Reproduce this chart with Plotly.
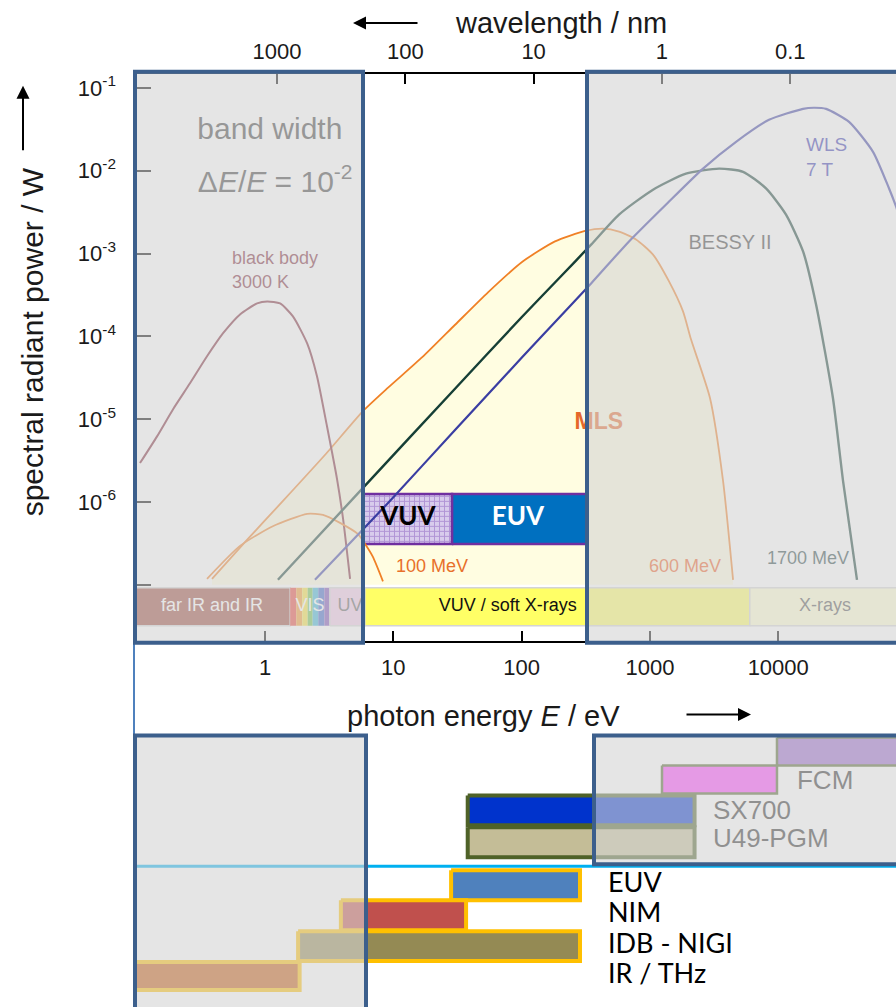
import plotly.graph_objects as go

HC = 1239.84  # h*c in eV*nm, converts photon energy to wavelength

# ---------------- spectra: photon energy E / eV, spectral radiant power / W ----------------
bb_E = [0.106, 0.144, 0.192, 0.26, 0.353, 0.471, 0.638, 0.867, 1.04, 1.31, 1.65, 2.13, 2.54,
        3.04, 3.64, 4.06, 4.6]
bb_P = [2.95e-6, 6.2e-6, 1.32e-5, 2.71e-5, 5.74e-5, 1.09e-4, 1.84e-4, 2.5e-4, 2.64e-4, 2.5e-4,
        1.74e-4, 8.2e-5, 3.3e-5, 8.2e-6, 1.89e-6, 6.2e-7, 1.18e-7]

mls100_E = [0.353, 0.638, 1.15, 2.13, 2.83, 3.84, 5.31, 5.8, 6.9, 8.3]
mls100_P = [1.18e-7, 2.95e-7, 5.1e-7, 7.2e-7, 7.0e-7, 5.6e-7, 4.1e-7, 3.4e-7, 2.2e-7, 1.1e-7]

mls600_E = [0.386, 0.7, 1.38, 3.0, 5.8, 9.1, 16.8, 30.3, 54.7, 100.7, 182, 312, 431, 574, 779,
            1057, 1409, 1811, 2090, 2938, 3715, 4446]
mls600_P = [1.18e-7, 3.3e-7, 1.03e-6, 3.85e-6, 1.25e-5, 2.4e-5, 5.6e-5, 1.38e-4, 3.4e-4, 7.9e-4,
            1.4e-3, 1.87e-3, 2.0e-3, 1.84e-3, 1.48e-3, 9.7e-4, 4.6e-4, 2.0e-4, 9.2e-5, 1.8e-5,
            1.8e-6, 1.15e-7]

bessy_E = [1.26, 5.8, 30, 100, 200, 348, 574, 1057, 1909, 3458, 5321, 8035, 11500, 15620,
           19720, 26700, 32000, 41100]
bessy_P = [1.15e-7, 1.48e-6, 2.3e-5, 1.7e-4, 5.2e-4, 1.28e-3, 2.95e-3, 5.9e-3, 9.2e-3, 1.06e-2,
           9.7e-3, 6.1e-3, 2.95e-3, 1.06e-3, 2.43e-4, 1.8e-5, 1.8e-6, 1.15e-7]

wls_E = [2.45, 9.4, 30, 100, 200, 348, 687, 1409, 2594, 4690, 8475, 15600, 19000, 23600, 35650,
         54800, 73100, 82800, 100000]
wls_P = [1.15e-7, 1.03e-6, 7.3e-6, 5.5e-5, 1.74e-4, 4.35e-4, 1.4e-3, 4.24e-3, 1.06e-2, 2.23e-2,
         4.11e-2, 5.58e-2, 5.75e-2, 5.58e-2, 3.89e-2, 1.69e-2, 6.1e-3, 3.7e-3, 1.4e-3]

# ---------------- spectral ranges (strip along the bottom of the plot) ----------------
band_names = ["far IR and IR", "VIS", "UV", "VUV / soft X-rays", "X-rays"]
band_lo = [0.09, 1.57, 3.2, 6.0, 6000]
band_hi = [1.57, 3.2, 6.0, 6000, 200000]
vis_edges = [1.57, 1.75, 1.95, 2.15, 2.35, 2.6, 2.9, 3.2]

region_names = ["VUV", "EUV"]
region_lo = [5.8, 28.7]
region_hi = [28.7, 320]

# ---------------- beamlines: energy ranges / eV ----------------
bessy_lines = ["", "FCM", "SX700", "U49-PGM"]
bessy_lo = [9780, 1242, 38, 38]
bessy_hi = [200000, 9780, 2228, 2228]

mls_lines = ["EUV", "NIM", "IDB - NIGI", "IR / THz"]
mls_lo = [28.2, 3.9, 1.81, 0.09]
mls_hi = [285, 36.9, 285, 1.86]

# ---------------- axis ticks ----------------
energy_ticks = [1, 10, 100, 1000, 10000]
wavelength_ticks = [1000, 100, 10, 1, 0.1]
power_ticks = [1e-1, 1e-2, 1e-3, 1e-4, 1e-5, 1e-6, 1e-7]
power_ticktext = ["10<sup>-1</sup>", "10<sup>-2</sup>", "10<sup>-3</sup>", "10<sup>-4</sup>",
                  "10<sup>-5</sup>", "10<sup>-6</sup>", ""]

# ---------------- styling ----------------
ARIAL = "Liberation Sans, Arial, sans-serif"
CALIBRI = "Lato, Carlito, sans-serif"
W, H = 896, 1007
L = 137
X_RANGE = [-0.998, 4.918]
Y_RANGE = [-7.675, -0.831]

ORANGE = "#f08026"
GREEN = "#163f36"
BLUE = "#3a3ea2"
MAROON = "#7a2535"
OLIVE = "#4f6228"
GOLD = "#ffc000"
FRAME = "#3c5f8c"
VEIL = "rgba(212,212,212,0.6)"

bessy_colors = ["#9966cc", "#ff44ff", "#0033cc", "#c4bd97"]
mls_colors = ["#4f81bd", "#c0504d", "#948a54", "#c55a11"]
band_colors = ["#9b4a3c", None, "#f0c8e6", "#ffff66", "#ffffd2"]
vis_colors = ["#e8443a", "#f39a2c", "#f5e23c", "#6cc04a", "#3cb4d8", "#3c64c8", "#7a4cb4"]

# vertical placement of the strip, the VUV/EUV boxes and the beamline rows
STRIP_P = (3.2e-8, 9.2e-8)
REGION_P = (3.1e-7, 1.25e-6)
BASE_P = 1.0e-7
bessy_rows = [18, 46, 77, 109]
bessy_heights = [28, 28, 30, 30]
mls_rows = [152, 182, 213, 243]
mls_heights = [30, 30, 30, 28]


def px_x(p):
    return (p - L) / (W - L)


def px_y(p):
    return 1 - p / H


fig = go.Figure()


def rect(x0, x1, y0, y1, fill, line_color="rgba(0,0,0,0)", line_width=0,
         xaxis="x", yaxis="y", pattern=None):
    fig.add_trace(go.Scatter(
        x=[x0, x1, x1, x0, x0], y=[y0, y0, y1, y1, y0], mode="lines",
        fill="toself", fillcolor=fill, fillpattern=pattern,
        line=dict(color=line_color, width=line_width),
        hoverinfo="skip", showlegend=False, xaxis=xaxis, yaxis=yaxis))


def label(x, y, text, size, color, pos="middle center", family=ARIAL,
          xaxis="x", yaxis="y"):
    fig.add_trace(go.Scatter(
        x=[x], y=[y], mode="text", text=[text], textposition=pos,
        textfont=dict(size=size, color=color, family=family),
        hoverinfo="skip", showlegend=False, cliponaxis=False,
        xaxis=xaxis, yaxis=yaxis))


def curve(xs, ys, color, width, **kw):
    fig.add_trace(go.Scatter(
        x=xs, y=ys, mode="lines",
        line=dict(color=color, width=width, shape="spline", smoothing=0.6),
        hoverinfo="skip", showlegend=False, **kw))


# light yellow area under the 600 MeV MLS spectrum
fig.add_trace(go.Scatter(x=mls600_E, y=[BASE_P] * len(mls600_E), mode="lines",
                         line=dict(width=0, color="rgba(0,0,0,0)"),
                         hoverinfo="skip", showlegend=False))
fig.add_trace(go.Scatter(x=mls600_E, y=mls600_P, mode="lines", fill="tonexty",
                         fillcolor="#fffde1",
                         line=dict(color=ORANGE, width=1.8, shape="spline", smoothing=0.6),
                         hoverinfo="skip", showlegend=False))

# spectral range strip
for name, lo, hi, col in zip(band_names, band_lo, band_hi, band_colors):
    if col is None:
        for a, b, c in zip(vis_edges[:-1], vis_edges[1:], vis_colors):
            rect(a, b, STRIP_P[0], STRIP_P[1], c)
    else:
        rect(lo, hi, STRIP_P[0], STRIP_P[1], col, "#d4d4d4", 1.5)

# VUV / EUV boxes
rect(region_lo[0], region_hi[0], REGION_P[0], REGION_P[1], "#c9b8e2", "#7030a0", 2.5,
     pattern=dict(shape="+", fgcolor="#8a5cc0", bgcolor="#d8ccec", size=5, solidity=0.35))
rect(region_lo[1], region_hi[1], REGION_P[0], REGION_P[1], "#0070c0", "#7030a0", 2.5)

# spectra
curve(bb_E, bb_P, MAROON, 2)
curve(mls100_E, mls100_P, ORANGE, 1.8)
curve(bessy_E, bessy_P, GREEN, 2.4)
curve(wls_E, wls_P, BLUE, 2.2)

# labels on the spectra
label(1.09, 2.95e-2, "band width", 30, "#3c3c3c")
label(1.2, 6.9e-3, "Δ<i>E</i>/<i>E</i> = 10<sup>-2</sup>", 30, "#3c3c3c")
label(0.553, 6.07e-4, "black body<br>3000 K", 18, MAROON, pos="middle right")
label(16480, 1.4e-2, "WLS<br>7 T", 19, "#3535b0", pos="middle right")
label(4210, 1.32e-3, "BESSY II", 20, "#383838")
label(1878, 1.6e-7, "600 MeV", 18, "#f05a20")
label(17070, 2.0e-7, "1700 MeV", 18, "#2a4545")
label(20, 1.6e-7, "100 MeV", 18, "#e8702a")
label(400, 8.95e-6, "<b>MLS</b>", 23, "#e5682a")
label(13.0, 6.24e-7, "<b>VUV</b>", 26, "#000000", family=CALIBRI)
label(93.7, 6.24e-7, "<b>EUV</b>", 26, "#ffffff", family=CALIBRI)

band_label_E = [0.386, 2.24, 4.6, 78, 23200]
band_label_col = ["#ffffff", "#ffffff", "#606060", "#111111", "#505050"]
for name, xe, col in zip(band_names, band_label_E, band_label_col):
    label(xe, 5.4e-8, name, 18, col)

# beamline bars (lower panel)
for name, lo, hi, col, row, h in zip(bessy_lines, bessy_lo, bessy_hi, bessy_colors,
                                     bessy_rows, bessy_heights):
    rect(lo, hi, row - h / 2, row + h / 2, col, OLIVE, 4 if row > 60 else 2.5,
         xaxis="x3", yaxis="y2")
for name, lo, hi, col, row, h in zip(mls_lines, mls_lo, mls_hi, mls_colors,
                                     mls_rows, mls_heights):
    rect(lo, hi, row - h / 2, row + h / 2, col, GOLD, 4, xaxis="x3", yaxis="y2")

bessy_label_E = [None, 14000, 3100, 3100]
bessy_label_row = [18, 49, 79, 107]
for name, xe, row in zip(bessy_lines, bessy_label_E, bessy_label_row):
    if name:
        label(xe, row, name, 26, "#2c2c2c", pos="middle right", xaxis="x3", yaxis="y2")
for name, row in zip(mls_lines, mls_rows):
    label(471, row, name, 27, "#000000", pos="middle right", family=CALIBRI,
          xaxis="x3", yaxis="y2")

# invisible anchor trace so the wavelength axis on top is rendered
fig.add_trace(go.Scatter(x=[HC / w for w in wavelength_ticks], y=[1e-2] * len(wavelength_ticks),
                         mode="markers", marker=dict(opacity=0), xaxis="x2", yaxis="y",
                         hoverinfo="skip", showlegend=False))

# ---------------- layout ----------------
axis_common = dict(type="log", showgrid=False, zeroline=False, ticks="inside",
                   tickcolor="#000000", tickwidth=1.5,
                   tickfont=dict(size=22, color="#1a1a1a", family=ARIAL))

shapes = [
    dict(type="line", xref="paper", yref="paper", x0=px_x(135), x1=1.0,
         y0=px_y(866), y1=px_y(866), line=dict(color="#00b0f0", width=3), layer="above"),
    dict(type="line", xref="paper", yref="paper", x0=px_x(134), x1=px_x(134),
         y0=px_y(642), y1=0, line=dict(color="#4f81bd", width=2), layer="above"),
]
for x0, x1, y0, y1 in [(135, 363, 70, 642), (587, 910, 70, 642),
                       (135, 366, 735, 1015), (594, 910, 735, 864)]:
    shapes.append(dict(type="rect", xref="paper", yref="paper",
                       x0=px_x(x0), x1=px_x(x1), y0=px_y(y1), y1=px_y(y0),
                       fillcolor=VEIL, line=dict(color=FRAME, width=4), layer="above"))

annotations = [
    dict(text="wavelength / nm", x=px_x(561), y=px_y(21), xref="paper", yref="paper",
         xanchor="center", yanchor="middle", showarrow=False,
         font=dict(size=29, family=ARIAL, color="#1a1a1a")),
    dict(text="", x=px_x(353), y=px_y(21), xref="paper", yref="paper", ax=66, ay=0,
         showarrow=True, arrowhead=2, arrowsize=1.3, arrowwidth=2, arrowcolor="#000000"),
    dict(text="photon energy <i>E</i> / eV", x=px_x(483), y=px_y(715), xref="paper",
         yref="paper", xanchor="center", yanchor="middle", showarrow=False,
         font=dict(size=29, family=ARIAL, color="#1a1a1a")),
    dict(text="", x=px_x(751), y=px_y(714), xref="paper", yref="paper", ax=-66, ay=0,
         showarrow=True, arrowhead=2, arrowsize=1.3, arrowwidth=2, arrowcolor="#000000"),
    dict(text="spectral radiant power / W", x=px_x(32), y=px_y(341), xref="paper",
         yref="paper", xanchor="center", yanchor="middle", showarrow=False, textangle=-90,
         font=dict(size=30, family=ARIAL, color="#1a1a1a")),
    dict(text="", x=px_x(23), y=px_y(84), xref="paper", yref="paper", ax=0, ay=66,
         showarrow=True, arrowhead=2, arrowsize=1.3, arrowwidth=2, arrowcolor="#000000"),
]

fig.update_layout(
    width=W, height=H, autosize=False,
    margin=dict(l=L, r=0, t=0, b=0, pad=0),
    paper_bgcolor="#ffffff", plot_bgcolor="rgba(0,0,0,0)",
    showlegend=False,
    xaxis=dict(axis_common, domain=[0, 1], anchor="y", range=X_RANGE,
               tickvals=energy_ticks, ticktext=[str(v) for v in energy_ticks],
               ticklen=10, showline=True, linecolor="#000000", linewidth=2,
               ticklabelstandoff=6),
    xaxis2=dict(axis_common, overlaying="x", side="top", anchor="y", range=X_RANGE,
                tickvals=[HC / w for w in wavelength_ticks],
                ticktext=[f"{w:g}" for w in wavelength_ticks],
                ticklen=10, showline=True, linecolor="#000000", linewidth=2,
                ticklabelstandoff=4),
    yaxis=dict(axis_common, domain=[px_y(640), px_y(72)], anchor="x", range=Y_RANGE,
               tickvals=power_ticks, ticktext=power_ticktext, ticklen=14,
               showline=False, ticklabelstandoff=20),
    xaxis3=dict(type="log", domain=[0, 1], anchor="y2", matches="x", range=X_RANGE,
                visible=False),
    yaxis2=dict(domain=[0, px_y(733)], anchor="x3", range=[274, 0], visible=False),
    shapes=shapes,
    annotations=annotations,
)

fig.write_html("out.html")
